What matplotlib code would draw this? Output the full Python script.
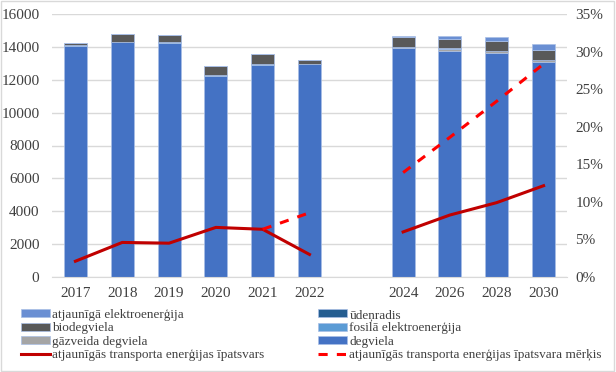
import numpy as np
import matplotlib
matplotlib.use('Agg')
import matplotlib.pyplot as plt
from matplotlib.patches import Rectangle
from matplotlib.ticker import FuncFormatter

plt.rcParams['font.family'] = ['Liberation Serif', 'DejaVu Serif']

nan = np.nan
years = ['2017', '2018', '2019', '2020', '2021', '2022', '', '2024', '2026', '2028', '2030']

degviela = [14050, 14270, 14240, 12250, 12920, 12940, nan, 13950, 13770, 13610, 13060]
gazveida = [0, 0, 0, 0, 0, 0, nan, 30, 120, 120, 120]
fosila_el = [40, 40, 40, 40, 40, 40, nan, 40, 40, 40, 40]
biodegviela = [130, 470, 440, 570, 590, 220, nan, 590, 520, 570, 560]
udenradis = [0, 0, 0, 0, 0, 0, nan, 0, 0, 0, 0]
atjaun_el = [0, 0, 0, 0, 0, 0, nan, 50, 230, 280, 400]

ipatsvars = [2.1, 4.6, 4.5, 6.6, 6.35, 3.0, nan, 6.0, 8.25, 9.9, 12.15]
merkis = [nan, nan, nan, nan, 6.35, 8.55, nan, 13.9, 18.6, 23.4, 28.35]

series = [
    ('degviela', degviela, '#4472C4'),
    ('gāzveida degviela', gazveida, '#A5A5A5'),
    ('fosilā elektroenerģija', fosila_el, '#5B9BD5'),
    ('biodegviela', biodegviela, '#595959'),
    ('ūdeņradis', udenradis, '#255E91'),
    ('atjaunīgā elektroenerģija', atjaun_el, '#6A8FD3'),
]

width = 6.16
height = 3.72
fig = plt.figure(figsize=(width, height), dpi=100)
ax = fig.add_axes([52/616, 1 - 277/372, 515/616, 263/372])

x = np.arange(len(years))
bottom = np.zeros(len(years))
handles = {}
for name, vals, col in series:
    v = np.array(vals, dtype=float)
    b = ax.bar(x, v, 0.49, bottom=bottom, color=col, edgecolor='#A9BFE6', linewidth=0.5,
               label=name, zorder=2)
    handles[name] = b
    bottom = bottom + np.nan_to_num(v)

ax.set_ylim(0, 16000)
ax.set_yticks(range(0, 16001, 2000))
ax.set_xlim(-0.5, len(years) - 0.5)
ax.set_xticks(x)
ax.set_xticklabels(years)
ax.grid(axis='y', color='#D9D9D9', linewidth=1, zorder=0)
ax.set_axisbelow(True)
for s in ['top', 'right', 'left']:
    ax.spines[s].set_visible(False)
ax.spines['bottom'].set_color('#D9D9D9')
ax.tick_params(axis='both', length=0, labelsize=11, colors='#404040')
ax.tick_params(axis='x', pad=7)
ax.tick_params(axis='y', pad=9)

ax2 = ax.twinx()
l1, = ax2.plot(x, ipatsvars, color='#C00000', linewidth=2.2, zorder=3)
l2, = ax2.plot(x, merkis, color='#FF0000', linewidth=2.2, linestyle=(0, (3, 3)), zorder=3)
ax2.set_ylim(0, 35)
ax2.set_yticks(range(0, 36, 5))
ax2.yaxis.set_major_formatter(FuncFormatter(lambda v, p: '%d%%' % v))
for s in ax2.spines.values():
    s.set_visible(False)
ax2.tick_params(axis='y', length=0, labelsize=11, colors='#404040', pad=6)

order = [
    (handles['atjaunīgā elektroenerģija'], 'atjaunīgā elektroenerģija'),
    (handles['biodegviela'], 'biodegviela'),
    (handles['gāzveida degviela'], 'gāzveida degviela'),
    (l1, 'atjaunīgās transporta enerģijas īpatsvars'),
    (handles['ūdeņradis'], 'ūdeņradis'),
    (handles['fosilā elektroenerģija'], 'fosilā elektroenerģija'),
    (handles['degviela'], 'degviela'),
    (l2, 'atjaunīgās transporta enerģijas īpatsvara mērķis'),
]
leg = fig.legend([h for h, _ in order], [t for _, t in order], ncol=2,
                 loc='upper left', bbox_to_anchor=(21/616, 1 - 309/372),
                 frameon=False, fontsize=9.5, handlelength=2.2, handleheight=0.55,
                 labelspacing=0.1, columnspacing=4.1, handletextpad=0.15,
                 borderpad=0, borderaxespad=0, labelcolor='#404040')

fig.patches.append(Rectangle((0.002, 0.003), 0.995, 0.994, transform=fig.transFigure,
                             fill=False, edgecolor='#D9D9D9', linewidth=1))

plt.savefig('out.png', dpi=100)
